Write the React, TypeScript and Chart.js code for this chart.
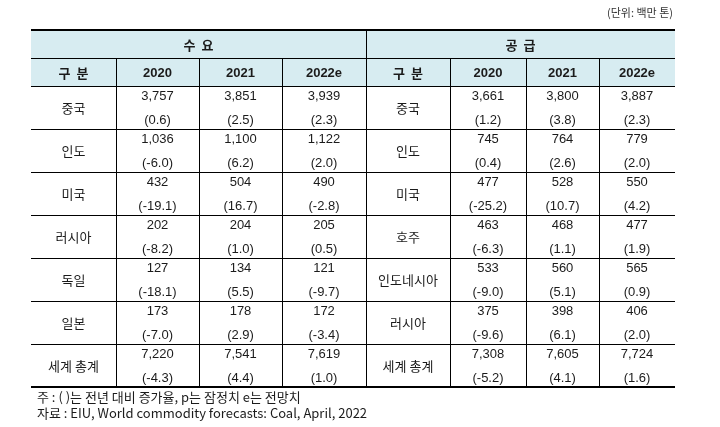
import React, { useEffect, useRef } from 'react';
import { Chart, registerables } from 'chart.js';

Chart.register(...registerables);

// ---- data ----
const years = ['2020', '2021', '2022e'];
const demandCountries = ['중국', '인도', '미국', '러시아', '독일', '일본', '세계 총계'];
const demand2020 = [3757, 1036, 432, 202, 127, 173, 7220];
const demand2021 = [3851, 1100, 504, 204, 134, 178, 7541];
const demand2022 = [3939, 1122, 490, 205, 121, 172, 7619];
const demandGrowth2020 = [0.6, -6.0, -19.1, -8.2, -18.1, -7.0, -4.3];
const demandGrowth2021 = [2.5, 6.2, 16.7, 1.0, 5.5, 2.9, 4.4];
const demandGrowth2022 = [2.3, 2.0, -2.8, 0.5, -9.7, -3.4, 1.0];

const supplyCountries = ['중국', '인도', '미국', '호주', '인도네시아', '러시아', '세계 총계'];
const supply2020 = [3661, 745, 477, 463, 533, 375, 7308];
const supply2021 = [3800, 764, 528, 468, 560, 398, 7605];
const supply2022 = [3887, 779, 550, 477, 565, 406, 7724];
const supplyGrowth2020 = [1.2, 0.4, -25.2, -6.3, -9.0, -9.6, -5.2];
const supplyGrowth2021 = [3.8, 2.6, 10.7, 1.1, 5.1, 6.1, 4.1];
const supplyGrowth2022 = [2.3, 2.0, 4.2, 1.9, 0.9, 2.0, 1.6];

const sectionTitles = ['수  요', '공  급'];
const rowHeader = '구  분';
const unitLabel = '(단위: 백만 톤)';
const footnotes = [
  '주 : ( )는 전년 대비 증가율, p는 잠정치 e는 전망치',
  '자료 : EIU, World commodity forecasts: Coal, April, 2022',
];

// ---- layout (scale units) ----
const COL_EDGES = [0, 85, 168, 251, 335, 419, 495, 568, 644];
const HEAD1 = [0, 28];
const HEAD2 = [28, 56];
const ROW_H = 43;
const X_MAX = 644;
const Y_MAX = 357;

const HEADER_BG = '#d7ecf1';
const TEXT = '#1b1b1b';
const NUM_FONT = '13px "Liberation Sans", "Noto Sans CJK KR", sans-serif';
const KOR_FONT = '13px "Noto Sans CJK KR", "Liberation Sans", sans-serif';
const BOLD_NUM = 'bold 13px "Liberation Sans", "Noto Sans CJK KR", sans-serif';
const BOLD_KOR = 'bold 13px "Noto Sans CJK KR", "Liberation Sans", sans-serif';

const fmt = (v: number) => v.toLocaleString('en-US');
const fmtG = (v: number) => `(${v.toFixed(1)})`;

const sections = [
  {
    countries: demandCountries,
    values: [demand2020, demand2021, demand2022],
    growth: [demandGrowth2020, demandGrowth2021, demandGrowth2022],
    col0: 0,
  },
  {
    countries: supplyCountries,
    values: [supply2020, supply2021, supply2022],
    growth: [supplyGrowth2020, supplyGrowth2021, supplyGrowth2022],
    col0: 4,
  },
];

const tablePlugin = {
  id: 'tableDraw',
  afterDraw(chart: any) {
    const ctx: CanvasRenderingContext2D = chart.ctx;
    const xs = chart.scales.x;
    const ys = chart.scales.y;
    const px = (v: number) => Math.round(xs.getPixelForValue(v));
    const py = (v: number) => Math.round(ys.getPixelForValue(v));
    const nRows = demandCountries.length;
    const rowEdges = Array.from({ length: nRows + 1 }, (_, i) => HEAD2[1] + i * ROW_H);

    ctx.save();
    // header background
    ctx.fillStyle = HEADER_BG;
    ctx.fillRect(px(0), py(HEAD1[0]), px(X_MAX) - px(0), py(HEAD2[1]) - py(HEAD1[0]));

    // horizontal lines
    ctx.strokeStyle = '#000';
    const hline = (yv: number, w: number) => {
      ctx.lineWidth = w;
      const y = py(yv) + (w % 2 === 1 ? 0.5 : 0);
      ctx.beginPath();
      ctx.moveTo(px(0), y);
      ctx.lineTo(px(X_MAX), y);
      ctx.stroke();
    };
    hline(HEAD1[0], 2);
    hline(HEAD1[1], 1);
    rowEdges.slice(0, -1).forEach((e) => hline(e, 1));
    hline(rowEdges[rowEdges.length - 1], 2);

    // vertical lines
    ctx.lineWidth = 1;
    const vline = (xv: number, y0: number, y1: number) => {
      const x = px(xv) + 0.5;
      ctx.beginPath();
      ctx.moveTo(x, py(y0));
      ctx.lineTo(x, py(y1));
      ctx.stroke();
    };
    vline(COL_EDGES[4], HEAD1[0], Y_MAX);
    [1, 2, 3, 5, 6, 7].forEach((i) => vline(COL_EDGES[i], HEAD2[0], Y_MAX));

    // texts
    ctx.fillStyle = TEXT;
    ctx.textAlign = 'center';
    ctx.textBaseline = 'middle';
    const cx = (i: number) => (px(COL_EDGES[i]) + px(COL_EDGES[i + 1])) / 2;
    const midY = (a: number, b: number) => (py(a) + py(b)) / 2;

    sections.forEach((s, si) => {
      ctx.font = BOLD_KOR;
      ctx.fillText(
        sectionTitles[si],
        (px(COL_EDGES[s.col0]) + px(COL_EDGES[s.col0 + 4])) / 2,
        midY(HEAD1[0], HEAD1[1]) + 1
      );
      ctx.fillText(rowHeader, cx(s.col0), midY(HEAD2[0], HEAD2[1]) + 1);
      ctx.font = BOLD_NUM;
      years.forEach((y, yi) => ctx.fillText(y, cx(s.col0 + 1 + yi), midY(HEAD2[0], HEAD2[1]) + 1));

      s.countries.forEach((c, r) => {
        const m = midY(rowEdges[r], rowEdges[r + 1]);
        ctx.font = KOR_FONT;
        ctx.fillText(c, cx(s.col0), m + 1);
        ctx.font = NUM_FONT;
        for (let k = 0; k < 3; k++) {
          ctx.fillText(fmt(s.values[k][r]), cx(s.col0 + 1 + k), m - 11);
          ctx.fillText(fmtG(s.growth[k][r]), cx(s.col0 + 1 + k), m + 13);
        }
      });
    });

    // unit label
    ctx.font = '11px "Noto Sans CJK KR", sans-serif';
    ctx.fillStyle = '#333';
    ctx.textAlign = 'right';
    ctx.fillText(unitLabel, px(X_MAX) - 2, 13);

    // footnotes
    ctx.font = '13px "Noto Sans CJK KR", "Liberation Sans", sans-serif';
    ctx.fillStyle = TEXT;
    ctx.textAlign = 'left';
    footnotes.forEach((f, i) => ctx.fillText(f, px(0) + 6, py(Y_MAX) + 10 + i * 16));
    ctx.restore();
  },
};

export default function App() {
  const ref = useRef<HTMLCanvasElement | null>(null);
  useEffect(() => {
    if (!ref.current) return;
    const chart = new Chart(ref.current, {
      type: 'scatter',
      data: { datasets: [{ data: [], pointRadius: 0 }] },
      options: {
        animation: false,
        responsive: false,
        maintainAspectRatio: false,
        devicePixelRatio: 1,
        layout: { padding: { left: 31, right: 45, top: 30, bottom: 40 } },
        scales: {
          x: { type: 'linear', min: 0, max: X_MAX, display: false },
          y: { type: 'linear', min: 0, max: Y_MAX, reverse: true, display: false },
        },
        plugins: { legend: { display: false }, tooltip: { enabled: false } },
      },
      plugins: [tablePlugin],
    });
    return () => chart.destroy();
  }, []);
  return (
    <div style={{ position: 'fixed', left: 0, top: 0, width: 720, height: 427, background: '#fff' }}>
      <canvas ref={ref} width={720} height={427} style={{ width: 720, height: 427 }} />
    </div>
  );
}
